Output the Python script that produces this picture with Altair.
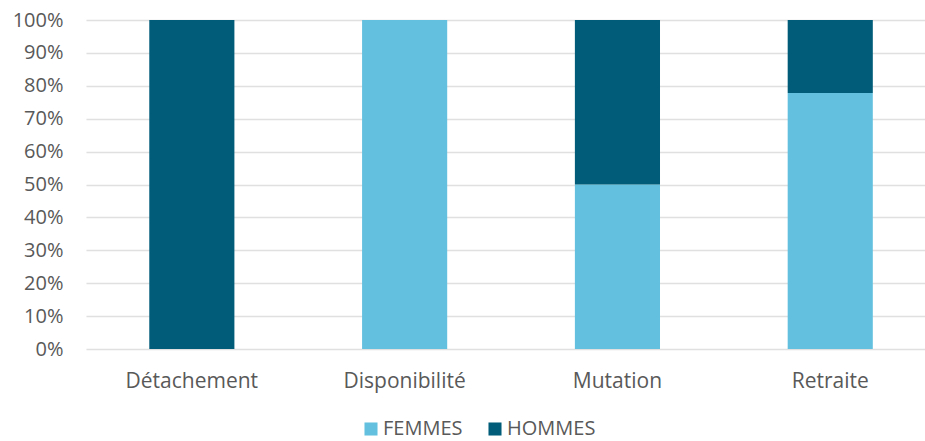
import altair as alt
import pandas as pd

categories = ["Détachement", "Disponibilité", "Mutation", "Retraite"]
femmes = [0, 1, 1, 7]
hommes = [1, 0, 1, 2]
series = ["FEMMES", "HOMMES"]
colors = ["#63C1DF", "#005C78"]

rows = []
for c, f, h in zip(categories, femmes, hommes):
    rows.append({"cat": c, "sexe": "FEMMES", "val": f, "ord": 0})
    rows.append({"cat": c, "sexe": "HOMMES", "val": h, "ord": 1})
df = pd.DataFrame(rows)

font = "Open Sans"
grey = "#595959"

chart = alt.Chart(df).mark_bar().encode(
    x=alt.X("cat:N", sort=categories, title=None,
            scale=alt.Scale(paddingInner=0.6, paddingOuter=0.2713, align=0.548),
            axis=alt.Axis(labelAngle=0, labelFontSize=21, labelColor=grey, labelFont=font,
                          labelPadding=21, domain=False, ticks=False)),
    y=alt.Y("val:Q", stack="normalize", title=None,
            scale=alt.Scale(domain=[0, 1]),
            axis=alt.Axis(format=".0%", values=[i / 10 for i in range(11)],
                          labelFontSize=20, labelColor=grey, labelFont=font, labelPadding=23,
                          domain=False, ticks=False, gridColor="#E0E0E0", gridWidth=1.5)),
    color=alt.Color("sexe:N", sort=series,
                    scale=alt.Scale(domain=series, range=colors),
                    legend=alt.Legend(title=None, orient="none", direction="horizontal",
                                      legendX=275, legendY=399, symbolType="square",
                                      symbolSize=170, labelFontSize=20, labelColor=grey,
                                      labelFont=font, columnPadding=22, labelOffset=2,
                                      symbolStrokeWidth=0)),
    order=alt.Order("ord:Q"),
).properties(
    width=839, height=329,
    autosize=alt.AutoSizeParams(type="none"),
    padding={"left": 86, "top": 20, "right": 0, "bottom": 92},
).configure_view(stroke=None)

chart.save("out.html", embed_options={"renderer": "svg", "actions": False})
